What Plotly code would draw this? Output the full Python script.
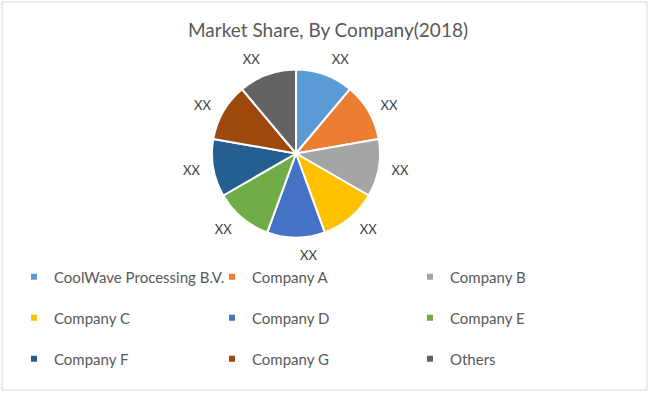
import plotly.graph_objects as go

companies = ["CoolWave Processing B.V.", "Company A", "Company B", "Company C",
             "Company D", "Company E", "Company F", "Company G", "Others"]
shares = [1, 1, 1, 1, 1, 1, 1, 1, 1]
value_labels = ["XX"] * 9
colors = ["#5B9BD5", "#ED7D31", "#A5A5A5", "#FFC000", "#4472C4",
          "#70AD47", "#255E91", "#9E480E", "#636363"]

W, H = 650, 393
FONT = "Lato"
CX, CY, R = 296, 153.5, 84      # pie centre / radius in pixels
RL = 93                          # radius of the label ring

fig = go.Figure()
# visible slices
fig.add_trace(go.Pie(
    labels=companies, values=shares, textinfo="none",
    sort=False, direction="clockwise", rotation=0,
    marker=dict(colors=colors, line=dict(color="white", width=2)),
    domain=dict(x=[(CX - R) / W, (CX + R) / W], y=[1 - (CY + R) / H, 1 - (CY - R) / H]),
    showlegend=False, hoverinfo="label",
))
# data labels, placed outside a slightly larger transparent ring
fig.add_trace(go.Pie(
    labels=companies, values=shares, text=value_labels,
    textinfo="text", textposition="outside",
    textfont=dict(family=FONT, size=13, color="#404040"),
    sort=False, direction="clockwise", rotation=0, hole=0.95,
    marker=dict(colors=["rgba(0,0,0,0)"] * 9, line=dict(width=0)),
    domain=dict(x=[(CX - RL) / W, (CX + RL) / W], y=[1 - (CY + RL) / H, 1 - (CY - RL) / H]),
    showlegend=False, hoverinfo="skip",
))

# legend entries, three rows of three
rows = [[0, 1, 2], [3, 4, 5], [6, 7, 8]]
row_y = [277, 318, 359]
legend_names = ["legend", "legend2", "legend3"]
for r, idxs in enumerate(rows):
    for i in idxs:
        fig.add_trace(go.Scatter(
            x=[None], y=[None], mode="markers", name=companies[i],
            marker=dict(symbol="square", size=6, color=colors[i]),
            legend=legend_names[r], hoverinfo="skip",
        ))

legend_common = dict(
    orientation="h", xanchor="left", yanchor="middle", x=14 / W,
    entrywidth=153, entrywidthmode="pixels",
    font=dict(family=FONT, size=15, color="#595959"),
    bgcolor="rgba(0,0,0,0)", itemclick=False, itemdoubleclick=False,
)
fig.update_layout(
    width=W, height=H,
    margin=dict(l=0, r=0, t=0, b=0),
    paper_bgcolor="white", plot_bgcolor="white",
    title=dict(text="Market Share, By Company(2018)", x=328 / W, xanchor="center",
               y=1 - 30 / H, yanchor="middle", yref="container",
               font=dict(family=FONT, size=19, color="#595959")),
    xaxis=dict(visible=False), yaxis=dict(visible=False),
    legend=dict(**legend_common, y=1 - row_y[0] / H),
    legend2=dict(**legend_common, y=1 - row_y[1] / H),
    legend3=dict(**legend_common, y=1 - row_y[2] / H),
    shapes=[dict(type="rect", xref="paper", yref="paper",
                 x0=2 / W, x1=647 / W, y0=1 - 390 / H, y1=1 - 2 / H,
                 line=dict(color="#D9D9D9", width=1))],
)

fig.write_html("out.html", config={"displayModeBar": False},
               post_script="document.body.style.margin='0';document.body.style.padding='0';")
